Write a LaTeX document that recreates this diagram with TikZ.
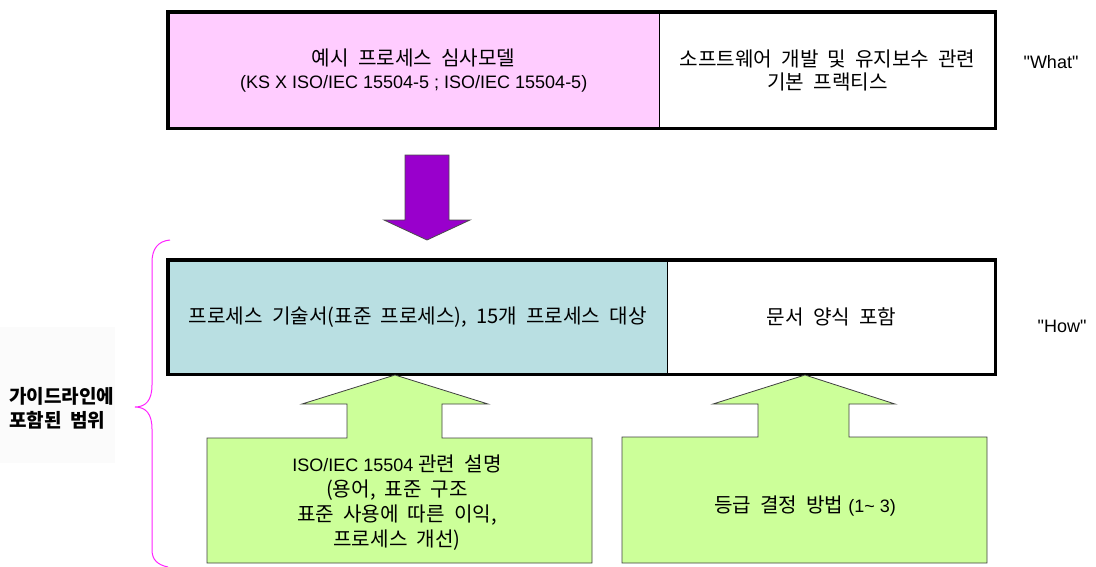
\documentclass[tikz,border=0pt]{standalone}
\usepackage{fontspec}
\setmainfont{Liberation Sans}
\newfontfamily\kr{Noto Sans CJK KR}[Scale=1.12, WordSpace=2]
\definecolor{pinkc}{HTML}{FFCCFF}
\definecolor{bluec}{HTML}{B9DFE2}
\definecolor{greenc}{HTML}{CCFF99}
\definecolor{purplec}{HTML}{9900CC}
\definecolor{bracec}{HTML}{FF22FF}
\begin{document}
\begin{tikzpicture}[x=1pt,y=-1pt,
  cell/.style={rectangle, inner sep=0pt, align=center, anchor=north west,
    font=\fontsize{18}{23}\selectfont},
  frame/.style={draw=black, line width=3.2pt},
  divider/.style={draw=black, line width=1.1pt},
  greenarrow/.style={fill=greenc, draw=black!75, line width=0.8pt, line join=miter},
  purplearrow/.style={fill=purplec, draw=black!70, line width=0.8pt},
  txt/.style={inner sep=0pt, align=center, font=\fontsize{18}{25}\selectfont},
  side/.style={inner sep=0pt, font=\fontsize{18}{23}\selectfont}]
\useasboundingbox (0,0) rectangle (1096,566);

% top row
\node[cell, fill=pinkc, minimum width=491, minimum height=116] (topL) at (168,12)
  {{\kr 예시 프로세스 심사모델}\\(KS X ISO/IEC 15504-5 ; ISO/IEC 15504-5)};
\node[cell, fill=white, minimum width=336, minimum height=116] (topR) at (topL.north east)
  {\kr 소프트웨어 개발 및 유지보수 관련\\\kr 기본 프랙티스};
\draw[frame] (topL.north west) rectangle (topR.south east);
\draw[divider] (topL.north east) -- (topL.south east);
\node[side] (what) at (1051,62) {\textquotedbl What\textquotedbl};

% purple arrow
\draw[purplearrow] (405,155) -- (449,155) -- (449,220) -- (470,220) -- (427,240)
  -- (384,220) -- (405,220) -- cycle;

% second row
\node[cell, fill=bluec, minimum width=499, minimum height=114] (botL) at (168,260)
  {\kr 프로세스 기술서(표준 프로세스), 15개 프로세스 대상};
\node[cell, fill=white, minimum width=328, minimum height=114] (botR) at (botL.north east)
  {\kr 문서 양식 포함};
\draw[frame] (botL.north west) rectangle (botR.south east);
\draw[divider] (botL.north east) -- (botL.south east);
\node[side] (how) at (1062,326) {\textquotedbl How\textquotedbl};

% green arrows
\draw[greenarrow] (207,438) -- (347,438) -- (347,404) -- (302,404) -- (395,375)
  -- (488,404) -- (442,404) -- (442,438) -- (592,438) -- (592,563) -- (207,563) -- cycle;
\node[txt] (g1) at (397,503)
  {ISO/IEC 15504 {\kr 관련 설명}\\{\kr (용어, 표준 구조}\\{\kr 표준 사용에 따른 이익,}\\{\kr 프로세스 개선)}};
\draw[greenarrow] (622,437) -- (758,437) -- (758,404) -- (713,404) -- (805,375)
  -- (895,404) -- (849,404) -- (849,437) -- (987,437) -- (987,563) -- (622,563) -- cycle;
\node[txt] (g2) at (805,506) {{\kr 등급 결정 방법} (1\textasciitilde{} 3)};

% brace and label
\fill[black!1.5] (0,327) rectangle (115,463);
\draw[bracec, line width=1pt] (170,240) .. controls (158,241) and (152,249) .. (152,262)
  -- (152,385) .. controls (152,400) and (146,407) .. (135,407)
  .. controls (146,407) and (152,414) .. (152,429)
  -- (152,550) .. controls (152,560) and (158,565) .. (168,567);
\node[inner sep=0pt, align=left, anchor=west, font=\fontsize{17}{24}\selectfont\kr\bfseries] (label) at (9,408)
  {가이드라인에\\포함된 범위};
\end{tikzpicture}
\end{document}
